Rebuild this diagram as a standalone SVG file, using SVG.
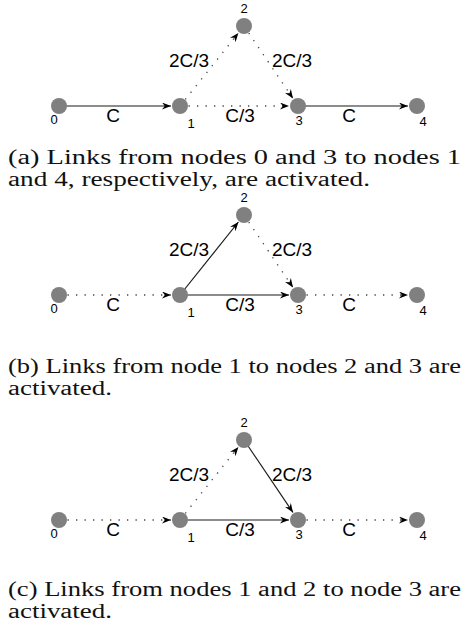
<svg xmlns="http://www.w3.org/2000/svg" width="465" height="640" viewBox="0 0 465 640">
<style>
.node{fill:#808080}
.solid{stroke:#1a1a1a;stroke-width:1.2;fill:none}
.dot{stroke:#444;stroke-width:1.3;fill:none;stroke-dasharray:1.3 7.2}
.lbl{font-family:"Liberation Sans",Arial,sans-serif;font-size:19px;fill:#000;text-anchor:middle}
.num{font-family:"Liberation Sans",Arial,sans-serif;font-size:13px;fill:#000;text-anchor:middle}
.cap{font-family:"Liberation Serif","Times New Roman",serif;font-size:20px;fill:#111}
</style>
<defs>
<marker id="arr" markerUnits="userSpaceOnUse" markerWidth="11" markerHeight="8" refX="9" refY="3.5" orient="auto">
<path d="M0,0 L9,3.5 L0,7 L2.8,3.5 z" fill="#000"/>
</marker>
</defs>
<rect width="465" height="640" fill="#fff"/>

<!-- Panel (a) -->
<g id="panel-a">
<g id="a-connectors">
<line class="solid" x1="59" y1="106" x2="171" y2="106" marker-end="url(#arr)"/>
<line class="dot" x1="180" y1="106" x2="238.4" y2="33" marker-end="url(#arr)"/>
<line class="dot" x1="244" y1="26" x2="293" y2="98.5" marker-end="url(#arr)"/>
<line class="dot" x1="180" y1="106" x2="289" y2="106" marker-end="url(#arr)"/>
<line class="solid" x1="298" y1="106" x2="408" y2="106" marker-end="url(#arr)"/>
</g>
<g id="a-node0"><circle class="node" cx="59" cy="106" r="8"/><text class="num" x="54" y="124">0</text></g>
<g id="a-node1"><circle class="node" cx="180" cy="106" r="8"/><text class="num" x="191" y="128">1</text></g>
<g id="a-node2"><circle class="node" cx="244" cy="26" r="8"/><text class="num" x="244" y="13">2</text></g>
<g id="a-node3"><circle class="node" cx="298" cy="106" r="8"/><text class="num" x="299" y="125">3</text></g>
<g id="a-node4"><circle class="node" cx="417" cy="106" r="8"/><text class="num" x="423" y="126">4</text></g>
<g id="a-labels">
<text class="lbl" x="113" y="122">C</text>
<text class="lbl" x="189" y="67">2C/3</text>
<text class="lbl" x="292" y="67">2C/3</text>
<text class="lbl" x="240" y="122">C/3</text>
<text class="lbl" x="349" y="122">C</text>
</g>
<text class="cap" x="8" y="164" textLength="453" lengthAdjust="spacingAndGlyphs">(a) Links from nodes 0 and 3 to nodes 1</text>
<text class="cap" x="8" y="186" textLength="362" lengthAdjust="spacingAndGlyphs">and 4, respectively, are activated.</text>
</g>

<!-- Panel (b) -->
<g id="panel-b" transform="translate(0,189)">
<g id="b-connectors">
<line class="dot" x1="59" y1="106" x2="171" y2="106" marker-end="url(#arr)"/>
<line class="solid" x1="180" y1="106" x2="238.4" y2="33" marker-end="url(#arr)"/>
<line class="dot" x1="244" y1="26" x2="293" y2="98.5" marker-end="url(#arr)"/>
<line class="solid" x1="180" y1="106" x2="289" y2="106" marker-end="url(#arr)"/>
<line class="dot" x1="298" y1="106" x2="408" y2="106" marker-end="url(#arr)"/>
</g>
<g id="b-node0"><circle class="node" cx="59" cy="106" r="8"/><text class="num" x="54" y="124">0</text></g>
<g id="b-node1"><circle class="node" cx="180" cy="106" r="8"/><text class="num" x="191" y="128">1</text></g>
<g id="b-node2"><circle class="node" cx="244" cy="26" r="8"/><text class="num" x="244" y="13">2</text></g>
<g id="b-node3"><circle class="node" cx="298" cy="106" r="8"/><text class="num" x="299" y="125">3</text></g>
<g id="b-node4"><circle class="node" cx="417" cy="106" r="8"/><text class="num" x="423" y="126">4</text></g>
<g id="b-labels">
<text class="lbl" x="113" y="122">C</text>
<text class="lbl" x="189" y="67">2C/3</text>
<text class="lbl" x="292" y="67">2C/3</text>
<text class="lbl" x="240" y="122">C/3</text>
<text class="lbl" x="349" y="122">C</text>
</g>
<text class="cap" x="8" y="184" textLength="453" lengthAdjust="spacingAndGlyphs">(b) Links from node 1 to nodes 2 and 3 are</text>
<text class="cap" x="8" y="206" textLength="104" lengthAdjust="spacingAndGlyphs">activated.</text>
</g>

<!-- Panel (c) -->
<g id="panel-c" transform="translate(0,414)">
<g id="c-connectors">
<line class="dot" x1="59" y1="106" x2="171" y2="106" marker-end="url(#arr)"/>
<line class="dot" x1="180" y1="106" x2="238.4" y2="33" marker-end="url(#arr)"/>
<line class="solid" x1="244" y1="26" x2="293" y2="98.5" marker-end="url(#arr)"/>
<line class="solid" x1="180" y1="106" x2="289" y2="106" marker-end="url(#arr)"/>
<line class="dot" x1="298" y1="106" x2="408" y2="106" marker-end="url(#arr)"/>
</g>
<g id="c-node0"><circle class="node" cx="59" cy="106" r="8"/><text class="num" x="54" y="124">0</text></g>
<g id="c-node1"><circle class="node" cx="180" cy="106" r="8"/><text class="num" x="191" y="128">1</text></g>
<g id="c-node2"><circle class="node" cx="244" cy="26" r="8"/><text class="num" x="244" y="13">2</text></g>
<g id="c-node3"><circle class="node" cx="298" cy="106" r="8"/><text class="num" x="299" y="125">3</text></g>
<g id="c-node4"><circle class="node" cx="417" cy="106" r="8"/><text class="num" x="423" y="126">4</text></g>
<g id="c-labels">
<text class="lbl" x="113" y="122">C</text>
<text class="lbl" x="189" y="67">2C/3</text>
<text class="lbl" x="292" y="67">2C/3</text>
<text class="lbl" x="240" y="122">C/3</text>
<text class="lbl" x="349" y="122">C</text>
</g>
<text class="cap" x="8" y="182" textLength="453" lengthAdjust="spacingAndGlyphs">(c) Links from nodes 1 and 2 to node 3 are</text>
<text class="cap" x="8" y="204" textLength="104" lengthAdjust="spacingAndGlyphs">activated.</text>
</g>
</svg>
